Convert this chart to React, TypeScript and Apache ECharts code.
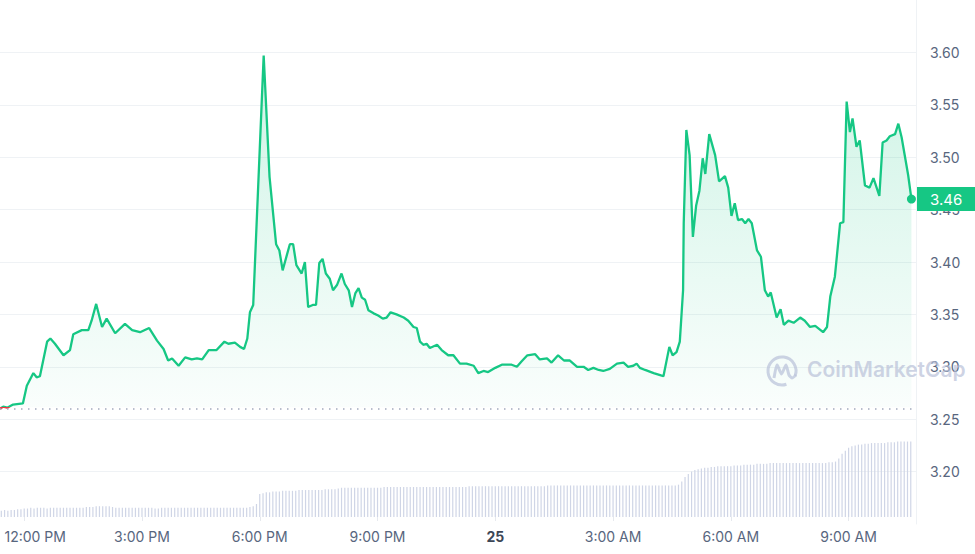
import React, { useEffect, useRef } from 'react';
import * as echarts from 'echarts';

// Time of each price sample, minutes after midnight of the 24th
const priceMinutes = [
  683, 688, 694, 703, 718, 724, 734, 739, 744, 755,
  760, 767, 780, 790, 795, 808, 818, 823, 830, 839,
  846, 859, 874, 885, 897, 911, 923, 933, 940, 946,
  956, 966, 976, 984, 992, 1002, 1014, 1026, 1032, 1042,
  1050, 1056, 1061, 1065, 1070, 1086, 1095, 1105, 1110, 1115,
  1126, 1131, 1136, 1144, 1149, 1154, 1161, 1166, 1171, 1176,
  1181, 1187, 1192, 1198, 1205, 1210, 1216, 1221, 1226, 1231,
  1236, 1241, 1246, 1254, 1261, 1268, 1274, 1280, 1289, 1300,
  1307, 1315, 1320, 1325, 1330, 1335, 1340, 1351, 1358, 1368,
  1376, 1386, 1396, 1407, 1414, 1422, 1429, 1440, 1450, 1465,
  1473, 1480, 1489, 1501, 1508, 1519, 1526, 1536, 1545, 1554,
  1565, 1575, 1582, 1590, 1598, 1605, 1615, 1626, 1636, 1643,
  1651, 1656, 1661, 1669, 1682, 1692, 1697, 1706, 1711, 1717,
  1722, 1727, 1728, 1732, 1737, 1742, 1747, 1752, 1757, 1761,
  1767, 1776, 1782, 1791, 1796, 1801, 1806, 1811, 1817, 1822,
  1827, 1832, 1840, 1846, 1852, 1857, 1861, 1870, 1876, 1881,
  1888, 1896, 1906, 1913, 1921, 1929, 1941, 1947, 1952, 1959,
  1967, 1972, 1977, 1982, 1986, 1992, 1997, 2005, 2012, 2018,
  2027, 2032, 2038, 2043, 2051, 2056, 2061, 2071, 2076,
];

const prices = [
  3.260, 3.262, 3.261, 3.264, 3.265, 3.282, 3.294, 3.290, 3.291, 3.324,
  3.327, 3.322, 3.311, 3.316, 3.331, 3.335, 3.335, 3.344, 3.360, 3.338,
  3.346, 3.332, 3.341, 3.335, 3.333, 3.337, 3.325, 3.317, 3.306, 3.308,
  3.301, 3.309, 3.307, 3.308, 3.307, 3.316, 3.316, 3.324, 3.322, 3.323,
  3.319, 3.317, 3.327, 3.352, 3.359, 3.597, 3.481, 3.417, 3.411, 3.392,
  3.417, 3.417, 3.397, 3.389, 3.400, 3.357, 3.359, 3.359, 3.399, 3.403,
  3.389, 3.384, 3.373, 3.378, 3.389, 3.379, 3.373, 3.357, 3.370, 3.375,
  3.366, 3.364, 3.354, 3.351, 3.349, 3.346, 3.347, 3.352, 3.350, 3.347,
  3.344, 3.338, 3.337, 3.324, 3.321, 3.322, 3.318, 3.321, 3.316, 3.311,
  3.311, 3.303, 3.303, 3.301, 3.294, 3.296, 3.295, 3.299, 3.302, 3.302,
  3.300, 3.305, 3.311, 3.312, 3.307, 3.308, 3.304, 3.311, 3.306, 3.306,
  3.300, 3.300, 3.297, 3.299, 3.297, 3.296, 3.298, 3.303, 3.304, 3.300,
  3.301, 3.303, 3.299, 3.297, 3.294, 3.292, 3.291, 3.319, 3.311, 3.314,
  3.324, 3.373, 3.437, 3.526, 3.502, 3.424, 3.454, 3.468, 3.499, 3.484,
  3.522, 3.502, 3.477, 3.482, 3.471, 3.444, 3.456, 3.440, 3.441, 3.437,
  3.441, 3.437, 3.411, 3.405, 3.373, 3.367, 3.371, 3.347, 3.355, 3.340,
  3.344, 3.342, 3.347, 3.344, 3.338, 3.339, 3.333, 3.338, 3.367, 3.386,
  3.437, 3.438, 3.553, 3.524, 3.537, 3.510, 3.516, 3.473, 3.471, 3.480,
  3.463, 3.514, 3.516, 3.520, 3.522, 3.532, 3.519, 3.483, 3.460,
];

// Volume bars, one every 5 minutes starting 11:25 AM (one row per hour)
const volumeStartMinute = 685;
const volumeStepMinutes = 5;
const volumes = [
  8, 9, 8, 9, 9, 10, 10,
  11, 11, 12, 11, 12, 12, 12, 11, 12, 12, 12, 12,
  12, 12, 12, 12, 12, 12, 12, 13, 13, 13, 14, 14,
  14, 14, 14, 13, 12, 12, 12, 12, 12, 12, 12, 12,
  12, 12, 12, 12, 11, 11, 12, 12, 12, 12, 12, 12,
  12, 12, 12, 12, 12, 12, 12, 12, 12, 12, 12, 12,
  12, 12, 12, 12, 12, 12, 12, 12, 12, 13, 14, 17,
  30, 31, 32, 32, 33, 33, 33, 34, 34, 34, 34, 34,
  35, 35, 35, 35, 35, 35, 35, 35, 36, 36, 36, 36,
  37, 38, 38, 38, 38, 38, 38, 38, 38, 38, 38, 38,
  38, 38, 39, 39, 39, 39, 39, 39, 39, 39, 39, 39,
  39, 39, 39, 39, 39, 39, 39, 39, 39, 39, 39, 39,
  39, 39, 39, 39, 40, 40, 40, 40, 40, 40, 40, 40,
  40, 40, 40, 40, 40, 40, 40, 40, 40, 40, 40, 40,
  40, 40, 40, 40, 41, 41, 41, 41, 41, 41, 41, 41,
  41, 41, 41, 41, 41, 41, 41, 41, 41, 41, 41, 41,
  41, 41, 41, 41, 41, 41, 41, 41, 41, 41, 41, 41,
  41, 41, 41, 41, 41, 41, 41, 41, 42, 46, 52, 56,
  59, 61, 62, 63, 64, 64, 65, 65, 66, 66, 66, 66,
  66, 67, 67, 67, 68, 68, 68, 68, 69, 69, 69, 69,
  70, 70, 70, 70, 70, 70, 70, 70, 70, 70, 70, 70,
  70, 70, 70, 70, 70, 70, 71, 71, 72, 76, 82, 86,
  90, 92, 93, 94, 94, 95, 95, 96, 96, 96, 96, 96,
  97, 97, 97, 98, 98, 98, 98, 98,
];

const baselinePrice = 3.2613;
// x axis: minutes after midnight of the 24th; labels every 3 hours
const xAxisMin = 683;
const xAxisMax = 2083;
const xTickMinutes = [720, 900, 1080, 1260, 1440, 1620, 1800, 1980];
const xTickLabels = ['12:00 PM', '3:00 PM', '6:00 PM', '9:00 PM', '25', '3:00 AM', '6:00 AM', '9:00 AM'];
const dayLabel = '25';

const GREEN = '#16c784';
const RED = '#ea3943';
const LABEL = '#58667e';
const GRID = '#eff2f5';

export default function App() {
  const ref = useRef<HTMLDivElement>(null);

  useEffect(() => {
    if (!ref.current) return;
    const chart = echarts.init(ref.current, undefined, { renderer: 'svg' });
    const lastIdx = prices.length - 1;
    const lastPrice = prices[lastIdx];
    const lastTime = priceMinutes[lastIdx];

    const xLabelFormatter = (v: number) => {
      const i = xTickMinutes.indexOf(v);
      if (i < 0) return '';
      const s = xTickLabels[i];
      if (s === dayLabel) return `{day|${s}}`;
      if (i === 0) return `{first|${s}}`;
      return s;
    };

    const option: any = {
      animation: false,
      backgroundColor: '#ffffff',
      textStyle: { fontFamily: 'Inter, "Noto Sans", sans-serif' },
      grid: [
        { left: 0, right: 59, top: 0, height: 524 },
        { left: 0, right: 59, top: 440, height: 77 },
      ],
      xAxis: [
        { type: 'value', gridIndex: 0, min: xAxisMin, max: xAxisMax, show: false },
        {
          type: 'value', gridIndex: 1, min: xAxisMin, max: xAxisMax,
          axisLine: { show: false },
          splitLine: { show: false },
          axisTick: { show: true, customValues: xTickMinutes, length: 4, lineStyle: { color: '#e6e9ee' } },
          axisLabel: {
            customValues: xTickMinutes,
            margin: 12,
            color: LABEL,
            fontSize: 14,
            formatter: xLabelFormatter,
            rich: {
              day: { fontWeight: 700, color: '#3c4656', fontSize: 14 },
              first: { padding: [0, 0, 0, 22], color: LABEL, fontSize: 14 },
            },
          },
        },
      ],
      yAxis: [
        {
          type: 'value', gridIndex: 0, position: 'right',
          min: 3.15, max: 3.65, interval: 0.05,
          axisLine: { show: true, lineStyle: { color: GRID } },
          axisTick: { show: false },
          axisLabel: {
            showMinLabel: false, showMaxLabel: false,
            margin: 14, color: LABEL, fontSize: 14,
            formatter: (v: number) => v.toFixed(2),
          },
          splitLine: { show: true, showMinLine: false, showMaxLine: false, lineStyle: { color: GRID } },
        },
        { type: 'value', gridIndex: 1, min: 0, max: 100, show: false },
      ],
      visualMap: {
        show: false,
        type: 'piecewise',
        seriesIndex: 0,
        dimension: 1,
        pieces: [
          { gte: 0, lt: baselinePrice, color: RED },
          { gte: baselinePrice, lte: 100, color: GREEN },
        ],
      },
      graphic: [
        {
          type: 'arc', z: 5,
          shape: { cx: 782, cy: 371, r: 14, startAngle: 1.25, endAngle: 0.35 + Math.PI * 2 },
          style: { stroke: 'rgba(184,192,216,0.7)', lineWidth: 3, fill: 'none' },
        },
        {
          type: 'polyline', z: 5,
          shape: { points: [[774, 378], [777, 365], [781.5, 374], [786, 365], [789, 375], [792, 378], [796, 375]], smooth: 0.2 },
          style: { stroke: 'rgba(184,192,216,0.7)', lineWidth: 3, fill: 'none' },
        },
        {
          type: 'text', z: 5, left: 807, top: 359,
          style: { text: 'CoinMarketCap', fontSize: 21, fontWeight: 600, fill: 'rgba(184,192,216,0.7)', fontFamily: 'Inter, sans-serif' },
        },
      ],
      series: [
        {
          type: 'line',
          xAxisIndex: 0, yAxisIndex: 0,
          data: priceMinutes.map((t, i) => [t, prices[i]]),
          showSymbol: false,
          z: 3,
          lineStyle: { width: 2.3 },
          areaStyle: {
            origin: baselinePrice,
            color: new echarts.graphic.LinearGradient(0, 0, 0, 1, [
              { offset: 0, color: 'rgba(22,199,132,0.3)' },
              { offset: 1, color: 'rgba(22,199,132,0.03)' },
            ]),
          },
          markLine: {
            silent: true,
            symbol: 'none',
            data: [
              {
                yAxis: baselinePrice,
                lineStyle: { color: '#a3abbd', type: [1.5, 5.5], width: 1.5 },
                label: { show: false },
              },
              {
                yAxis: lastPrice,
                lineStyle: { color: 'rgba(255,255,255,0)', width: 0 },
                label: {
                  show: true, position: 'end', distance: 1,
                  formatter: lastPrice.toFixed(2),
                  backgroundColor: GREEN, color: '#ffffff', opacity: 1,
                  padding: [5, 13, 4, 13], fontSize: 15,
                },
              },
            ],
          },
          markPoint: {
            silent: true,
            symbol: 'circle',
            symbolSize: 9,
            itemStyle: { color: GREEN },
            label: { show: false },
            data: [{ coord: [lastTime, lastPrice] }],
          },
        },
        {
          type: 'bar',
          xAxisIndex: 1, yAxisIndex: 1,
          data: volumes.map((v, i) => [volumeStartMinute + i * volumeStepMinutes, v]),
          barWidth: 1.2,
          itemStyle: { color: '#cfd5e6' },
          z: 1,
        },
      ],
    };
    chart.setOption(option);
    return () => chart.dispose();
  }, []);

  return (
    <div
      ref={ref}
      style={{ position: 'fixed', left: 0, top: 0, width: 975, height: 554, background: '#fff' }}
    />
  );
}
